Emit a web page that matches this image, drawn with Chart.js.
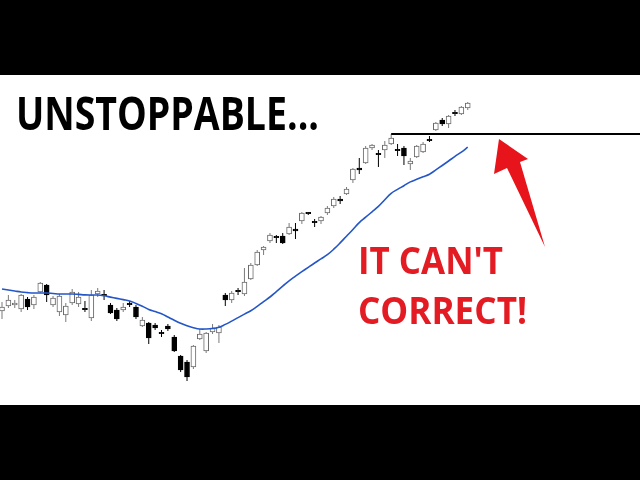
<!DOCTYPE html>
<html>
<head>
<meta charset="utf-8">
<script src="https://cdn.jsdelivr.net/npm/chart.js@4.4.0/dist/chart.umd.min.js"></script>
<style>
  html, body { margin: 0; padding: 0; background: #000; }
  #wrap { position: relative; width: 640px; height: 480px; overflow: hidden; }
  #c { position: absolute; left: 0; top: 0; }
  #ov { position: absolute; left: 0; top: 0; }
</style>
</head>
<body>
<div id="wrap">
  <canvas id="c" width="640" height="480"></canvas>
  <svg id="ov" width="640" height="480" xmlns="http://www.w3.org/2000/svg">
    <text x="16" y="130" font-family="Open Sans" font-weight="700" font-size="47" fill="#000" textLength="303" lengthAdjust="spacingAndGlyphs">UNSTOPPABLE...</text>
    <text x="358" y="274" font-family="Open Sans" font-weight="700" font-size="38" fill="#e31b23" textLength="145" lengthAdjust="spacingAndGlyphs">IT CAN'T</text>
    <text x="358" y="324" font-family="Open Sans" font-weight="700" font-size="38" fill="#e31b23" textLength="169" lengthAdjust="spacingAndGlyphs">CORRECT!</text>
    <polygon points="499,139 528,159 520,162 545,247 507,168 494,174" fill="#e8141c"/>
  </svg>
</div>
<script>
// ---- data (price units, arbitrary scale) ----
const open  = [94, 99,100, 96,106,100,113,120,100, 93, 90,102,101, 96, 87,111,110,100, 95, 95,
               101, 98, 79, 82, 80, 72, 79, 68, 49, 43, 38, 66, 54, 73, 72,110,105,114,111,126,
               140,155,164,168,169,171,176,184,192,183,184,192,199,206,211,225,237,242,257,251,
               255,261,255,257,241,248,253,265,275,285,281,292,291,297];
const close = [98,105,102,110, 98,108,122,110,107,109, 99,113,108, 96,110,114,110, 92, 86, 98,
               101, 88, 85, 67, 77, 72, 76, 54, 35, 28, 59, 71, 72, 77, 78,105,112,114,123,140,
               153,158,170,168,162,178,174,192,192,183,188,197,206,204,216,236,235,257,260,251,
               260,267,255,249,244,259,261,265,282,281,289,292,298,302];
const high  = [103,110,105,111,108,110,123,121,109,111,102,116,113,104,115,117,115,102, 97,102,
               104,100, 88, 83, 82, 75, 81, 70, 50, 45, 60, 76, 73, 81, 80,112,114,117,137,142,
               155,159,172,170,172,182,182,193,193,186,189,199,208,209,218,237,247,259,261,255,
               264,271,261,259,247,260,263,269,283,287,290,295,299,303];
const low   = [ 86, 97, 97, 93, 95, 96,112,103, 98, 89, 83,100, 98, 93, 84,108,105, 91, 84, 93,
                98, 86, 78, 61, 75, 68, 74, 53, 33, 24, 36, 65, 52, 71, 62, 99,102,110,109,125,
               139,150,162,162,161,170,166,181,190,178,181,190,197,201,210,222,231,241,255,238,
               247,260,249,240,235,247,252,263,274,279,277,289,290,295];
const movingAvg = [116,115,114,113,112.4,112,112,112,111.5,111,111,111,110.6,110.1,110,110,109.2,107.9,106.6,105.4,
               104.1,101.6,98.8,95.6,93.5,91.2,88,84.8,81.8,79.2,77.3,76,76,76.5,77.8,80.6,83.9,87.4,90.9,94.3,
               98.7,103.4,108,113.4,118.8,124.2,128.8,133.3,137.7,142,146.1,150.3,155.8,162.1,168.8,175.5,182.4,187.8,193.2,198.6,
               205.3,211.7,215.6,219.3,223.1,225.7,228.2,230.8,235.1,239.5,244,248.6,252.9,257.8];
const resistanceLevel = 271;
const resistanceStart = 61;
const totalSlots = 101;
const labels = Array.from({length: totalSlots}, (_, i) => 'D' + (i + 1));

// ---- derived ----
const bodies = open.map((o, i) => {
  const c = close[i];
  if (Math.abs(o - c) < 0.5) return [o - 0.7, o + 0.7];
  return [Math.min(o, c), Math.max(o, c)];
});
const wicks = low.map((l, i) => [l, high[i]]);
const isUp = open.map((o, i) => close[i] - o >= 0.5);
const bodyFill = isUp.map(u => u ? '#ffffff' : '#000000');
const bodyEdge = isUp.map(u => u ? '#6a6a6a' : '#000000');
const wickCol = isUp.map(u => u ? '#7a7a7a' : '#000000');
const resistance = labels.map((_, i) => i >= resistanceStart ? resistanceLevel : null);

const bg = {
  id: 'bg',
  beforeDraw(chart) {
    const ctx = chart.ctx;
    ctx.save();
    ctx.fillStyle = '#000';
    ctx.fillRect(0, 0, 640, 480);
    ctx.fillStyle = '#fff';
    ctx.fillRect(0, 75, 640, 330);
    ctx.restore();
  }
};

new Chart(document.getElementById('c'), {
  type: 'bar',
  data: {
    labels,
    datasets: [
      { type: 'line', data: movingAvg, borderColor: '#2456c8', borderWidth: 1.6,
        pointRadius: 0, tension: 0.4, order: 0, clip: false },
      { type: 'line', data: resistance, borderColor: '#000', borderWidth: 1.8,
        pointRadius: 0, tension: 0, order: 1, clip: false },
      { type: 'bar', data: bodies, backgroundColor: bodyFill, borderColor: bodyEdge,
        borderWidth: 1, borderSkipped: false, barThickness: 5, grouped: false, order: 2, clip: false },
      { type: 'bar', data: wicks, backgroundColor: wickCol, borderWidth: 0,
        barThickness: 1, grouped: false, order: 3, clip: false, inflateAmount: 0 }
    ]
  },
  options: {
    responsive: false,
    animation: false,
    devicePixelRatio: 1,
    layout: { padding: { left: 2, right: 0, top: 75, bottom: 75 } },
    plugins: { legend: { display: false }, tooltip: { enabled: false } },
    scales: {
      x: { display: false, offset: false, grid: { offset: false } },
      y: { display: false, min: 0, max: 330 }
    }
  },
  plugins: [bg]
});
</script>
</body>
</html>
